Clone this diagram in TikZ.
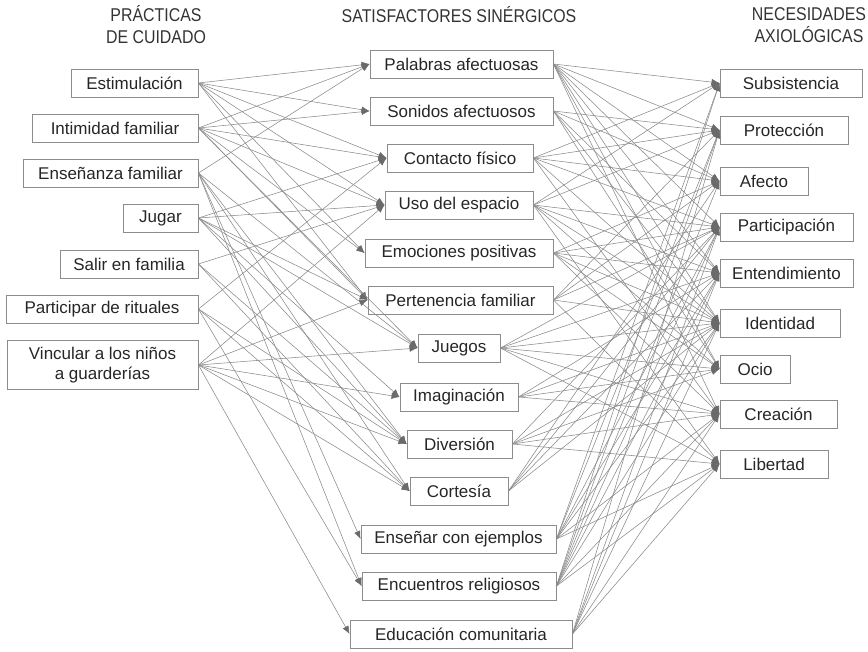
\documentclass[tikz,border=0pt]{standalone}
\usepackage{fontspec}
\setmainfont{Liberation Sans}
\newfontfamily\hdrfont[FakeStretch=0.86]{Liberation Sans}
\usetikzlibrary{arrows.meta}
\definecolor{edgecol}{HTML}{8A8A8A}
\definecolor{tipcol}{HTML}{6A6A6A}
\definecolor{boxcol}{HTML}{8C8C8C}
\tikzset{
  box/.style={draw=boxcol, line width=0.9pt, minimum height=28pt, inner sep=2pt,
    font=\fontsize{17}{20}\selectfont, text=black!85, align=center},
  hdr/.style={font=\hdrfont\fontsize{18.5}{22}\selectfont, text=black!80, align=center},
  link/.style={draw=edgecol, line width=0.55pt,
    -{Latex[length=8pt,width=6.5pt,fill=tipcol,color=tipcol]}},
}
\begin{document}
\begin{tikzpicture}[x=1pt,y=-1pt]
\useasboundingbox (0,0) rectangle (868,651);
% headers
\node[hdr] (h1) at (156,25) {PRÁCTICAS\\DE CUIDADO};
\node[hdr] (h2) at (459,15) {SATISFACTORES SINÉRGICOS};
\node[hdr] (h3) at (809,25) {NECESIDADES\\AXIOLÓGICAS};
% left column
\node[box, minimum width=127pt] (L1) at (134.5,83) {Estimulación};
\node[box, minimum width=166pt] (L2) at (115,128) {Intimidad familiar};
\node[box, minimum width=175pt] (L3) at (110.5,173) {Enseñanza familiar};
\node[box, minimum width=75pt]  (L4) at (160.5,218) {Jugar};
\node[box, minimum width=138pt] (L5) at (129,264) {Salir en familia};
\node[box, minimum width=192pt] (L6) at (102,309) {Participar de rituales};
\node[box, minimum width=191pt, minimum height=49pt] (L7) at (102.5,365) {Vincular a los niños\\a guarderías};
% middle column
\node[box, minimum width=183pt] (M1) at (461.5,64) {Palabras afectuosas};
\node[box, minimum width=183pt] (M2) at (461.5,111) {Sonidos afectuosos};
\node[box, minimum width=146pt] (M3) at (460,158) {Contacto físico};
\node[box, minimum width=148pt] (M4) at (459,205) {Uso del espacio};
\node[box, minimum width=188pt] (M5) at (459,253) {Emociones positivas};
\node[box, minimum width=185pt] (M6) at (460.5,300) {Pertenencia familiar};
\node[box, minimum width=82pt]  (M7) at (459,348) {Juegos};
\node[box, minimum width=118pt] (M8) at (459,397) {Imaginación};
\node[box, minimum width=105pt] (M9) at (459.5,444) {Diversión};
\node[box, minimum width=98pt]  (M10) at (459,491) {Cortesía};
\node[box, minimum width=195pt] (M11) at (458.5,539) {Enseñar con ejemplos};
\node[box, minimum width=194pt] (M12) at (459,586) {Encuentros religiosos};
\node[box, minimum width=222pt] (M13) at (461,634) {Educación comunitaria};
% right column
\node[box, minimum width=142pt] (R1) at (791,83) {Subsistencia};
\node[box, minimum width=128pt] (R2) at (784,130) {Protección};
\node[box, minimum width=88pt]  (R3) at (764,181) {Afecto};
\node[box, minimum width=133pt] (R4) at (786.5,227) {Participación};
\node[box, minimum width=133pt] (R5) at (786.5,273) {Entendimiento};
\node[box, minimum width=120pt] (R6) at (780,323) {Identidad};
\node[box, minimum width=70pt]  (R7) at (755,369) {Ocio};
\node[box, minimum width=117pt] (R8) at (778.5,414) {Creación};
\node[box, minimum width=108pt] (R9) at (774,464) {Libertad};
% left -> middle
\foreach \s/\tl in {
  L1/{M1,M2,M3,M4,M5,M6},
  L2/{M1,M2,M3,M4,M5,M6,M7},
  L3/{M1,M7,M9,M10,M11,M12},
  L4/{M3,M4,M6,M7,M8,M9},
  L5/{M4,M9,M10},
  L6/{M3,M10,M12,M9},
  L7/{M4,M6,M7,M8,M10,M13,M9}}{
  \foreach \t in \tl {\draw[link] (\s.east) -- (\t.west);}
}
% middle -> right
\foreach \s/\tl in {
  M1/{R1,R2,R3,R4,R5,R6,R7,R8},
  M2/{R2,R3,R5,R6,R7},
  M3/{R1,R2,R3,R4,R6,R8},
  M4/{R1,R2,R4,R5,R6,R7,R9},
  M5/{R3,R4,R5,R6,R7,R8},
  M6/{R2,R3,R4,R6,R9},
  M7/{R4,R5,R6,R7,R8,R9},
  M8/{R5,R6,R7,R8},
  M9/{R4,R6,R7,R8,R9},
  M10/{R3,R4,R5,R6},
  M11/{R1,R2,R4,R5,R6,R8,R9},
  M12/{R1,R2,R3,R4,R5,R6,R8,R9},
  M13/{R2,R4,R5,R6,R8,R9}}{
  \foreach \t in \tl {\draw[link] (\s.east) -- (\t.west);}
}
\end{tikzpicture}
\end{document}
